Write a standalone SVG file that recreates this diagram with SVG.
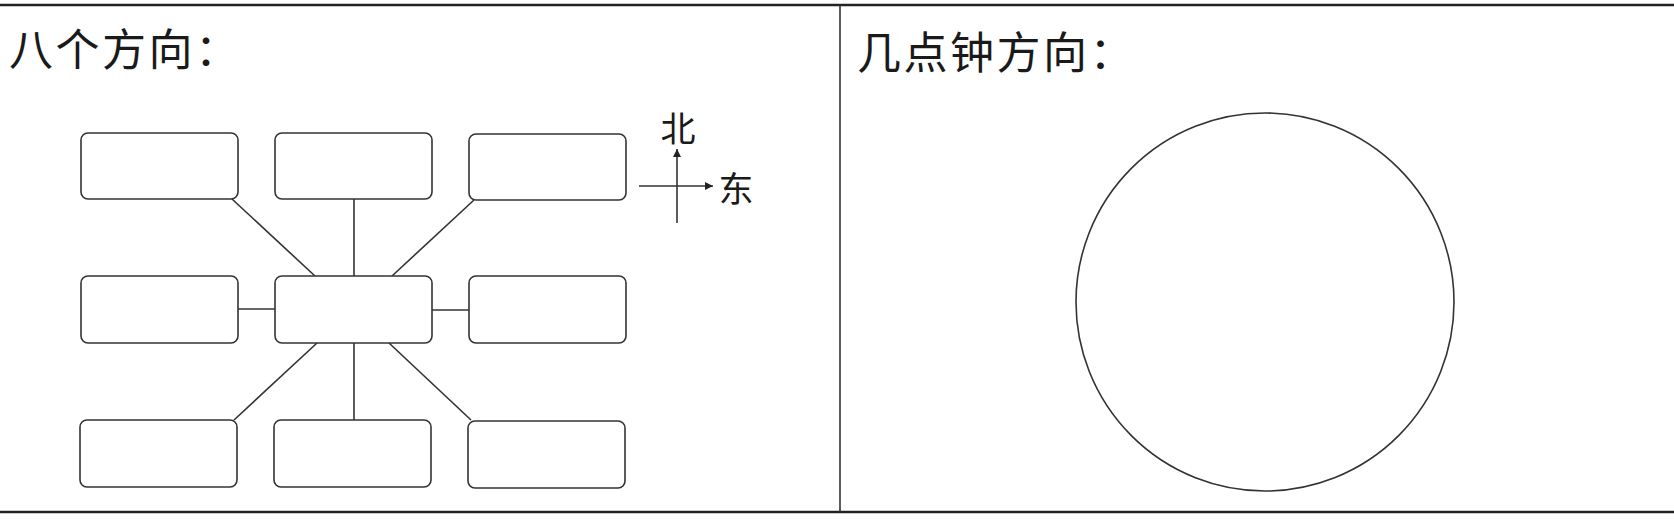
<svg xmlns="http://www.w3.org/2000/svg" width="1674" height="522" viewBox="0 0 1674 522">
<style>
.box{fill:#fff;stroke:#333;stroke-width:1.6}
.ln{stroke:#333;stroke-width:1.6;fill:none}
.frame{stroke:#222;stroke-width:2.6;fill:none}
.title{font-family:"Noto Sans CJK SC","Noto Sans",sans-serif;font-size:44px;fill:#1a1a1a;letter-spacing:2.5px}
.lab{font-family:"Noto Sans CJK SC","Noto Sans",sans-serif;font-size:35px;fill:#1a1a1a}
</style>
<defs>
<marker id="arr" viewBox="0 0 10 10" refX="10" refY="5" markerWidth="9" markerHeight="8" markerUnits="userSpaceOnUse" orient="auto">
<path d="M0,0 L10,5 L0,10 Z" fill="#222"/>
</marker>
</defs>
<rect width="1674" height="522" fill="#fff"/>
<g id="frame">
<line class="frame" x1="0" y1="5" x2="1674" y2="5"/>
<line class="frame" x1="0" y1="512" x2="1674" y2="512"/>
<line class="ln" x1="840" y1="5" x2="840" y2="512" stroke-width="1.4"/>
</g>
<g id="title-left"><text class="title" x="9" y="66">八个方向：</text></g>
<g id="title-right"><text class="title" x="857" y="69">几点钟方向：</text></g>
<g id="connectors">
<line class="ln" x1="354" y1="199" x2="354" y2="276"/>
<line class="ln" x1="232" y1="199" x2="315" y2="276"/>
<line class="ln" x1="474" y1="200" x2="392" y2="276"/>
<line class="ln" x1="238" y1="309" x2="275" y2="309"/>
<line class="ln" x1="432" y1="310" x2="469" y2="310"/>
<line class="ln" x1="317" y1="343" x2="234" y2="420"/>
<line class="ln" x1="354" y1="343" x2="354" y2="420"/>
<line class="ln" x1="389" y1="343" x2="471" y2="420"/>
</g>
<g id="box-nw"><rect class="box" x="81" y="133" width="157" height="66" rx="7"/></g>
<g id="box-n"><rect class="box" x="275" y="133" width="157" height="66" rx="7"/></g>
<g id="box-ne"><rect class="box" x="469" y="134" width="157" height="66" rx="7"/></g>
<g id="box-w"><rect class="box" x="81" y="276" width="157" height="67" rx="7"/></g>
<g id="box-c"><rect class="box" x="275" y="276" width="157" height="67" rx="7"/></g>
<g id="box-e"><rect class="box" x="469" y="276" width="157" height="67" rx="7"/></g>
<g id="box-sw"><rect class="box" x="80" y="420" width="157" height="67" rx="7"/></g>
<g id="box-s"><rect class="box" x="274" y="420" width="157" height="67" rx="7"/></g>
<g id="box-se"><rect class="box" x="468" y="421" width="157" height="67" rx="7"/></g>
<g id="compass">
<line class="ln" x1="677" y1="223" x2="677" y2="149" marker-end="url(#arr)" stroke-width="1.4"/>
<line class="ln" x1="639" y1="186" x2="713" y2="186" marker-end="url(#arr)" stroke-width="1.4"/>
<text class="lab" x="678" y="142" text-anchor="middle">北</text>
<text class="lab" x="736" y="202" text-anchor="middle">东</text>
</g>
<g id="clock"><circle class="ln" cx="1265" cy="302" r="189" stroke-width="1.5"/></g>
</svg>
